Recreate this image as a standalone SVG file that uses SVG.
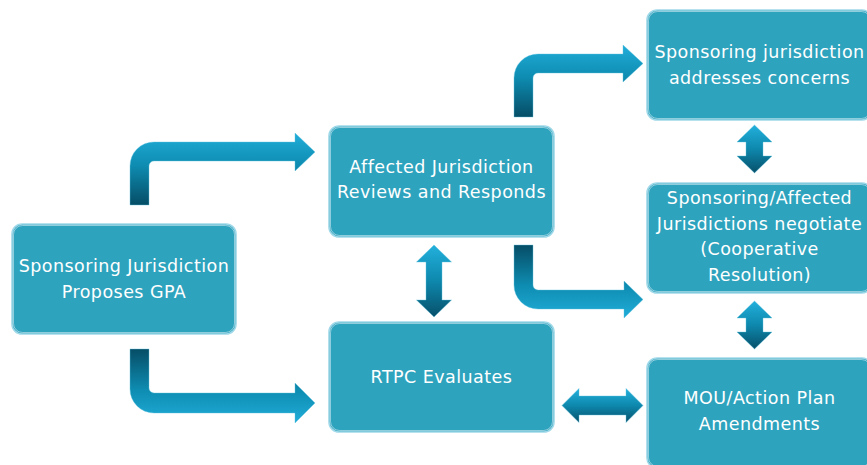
<svg xmlns="http://www.w3.org/2000/svg" width="867" height="465" viewBox="0 0 867 465">
<style>
.box{fill:#2ea3be;stroke:#9fd8e8;stroke-width:1.6}
.inner{fill:none;stroke:#ffffff;stroke-opacity:0.6;stroke-width:0.8}
.lbl{font-family:"DejaVu Sans","Liberation Sans",sans-serif;font-size:17.5px;letter-spacing:0.45px;fill:#ffffff;text-anchor:middle}
.arr{stroke:#5fc3df;stroke-opacity:0.5;stroke-width:0.8}
</style>
<defs>
<linearGradient id="gUp" x1="0" y1="0" x2="0" y2="1">
<stop offset="0" stop-color="#20add9"/>
<stop offset="0.45" stop-color="#0e8cb1"/>
<stop offset="1" stop-color="#064d66"/>
</linearGradient>
<linearGradient id="gDown" x1="0" y1="1" x2="0" y2="0">
<stop offset="0" stop-color="#20add9"/>
<stop offset="0.45" stop-color="#0e8cb1"/>
<stop offset="1" stop-color="#064d66"/>
</linearGradient>
<linearGradient id="gDbl" x1="0" y1="0" x2="0" y2="1">
<stop offset="0" stop-color="#22b0dc"/>
<stop offset="0.5" stop-color="#0e88ad"/>
<stop offset="1" stop-color="#07506a"/>
</linearGradient>
</defs>
<rect width="867" height="465" fill="#ffffff"/>
<g id="connectors">
<path class="arr" fill="url(#gUp)" d="M130,205 L130,166 A24,24 0 0 1 154,142 L295,142 L295,133 L315,152 L295,171 L295,161 L154,161 A5,5 0 0 0 149,166 L149,205 Z"/>
<path class="arr" fill="url(#gDown)" d="M130,349 L149,349 L149,388 A5,5 0 0 0 154,393 L295,393 L295,383 L315,403 L295,423 L295,413 L154,413 A24,24 0 0 1 130,389 Z"/>
<path class="arr" fill="url(#gUp)" d="M514,117 L514,78 A24,24 0 0 1 538,54 L623,54 L623,45 L643,63.5 L623,82 L623,73 L538,73 A5,5 0 0 0 533,78 L533,117 Z"/>
<path class="arr" fill="url(#gDown)" d="M514,245 L533,245 L533,285 A5,5 0 0 0 538,290 L624,290 L624,281 L643,299.5 L624,318 L624,309 L538,309 A24,24 0 0 1 514,285 Z"/>
<path class="arr" fill="url(#gDbl)" d="M434,245 L451.5,262 L442,262 L442,300 L451.5,300 L434,317 L416.5,300 L426,300 L426,262 L416.5,262 Z"/>
<path class="arr" fill="url(#gDbl)" d="M754.5,125 L772,142 L763,142 L763,156 L772,156 L754.5,173 L737,156 L746,156 L746,142 L737,142 Z"/>
<path class="arr" fill="url(#gDbl)" d="M754.5,301 L772,318 L763,318 L763,332 L772,332 L754.5,349 L737,332 L746,332 L746,318 L737,318 Z"/>
<path class="arr" fill="url(#gDbl)" d="M562,405.5 L579,388.5 L579,396 L626,396 L626,388.5 L643,405.5 L626,422.5 L626,415 L579,415 L579,422.5 Z"/>
</g>
<g id="n1">
<rect class="box" x="12" y="224" width="224" height="110" rx="10"/>
<rect class="inner" x="13.5" y="225.5" width="221" height="107" rx="9"/>
<text class="lbl" x="124" y="272">Sponsoring Jurisdiction</text>
<text class="lbl" x="124" y="298">Proposes GPA</text>
</g>
<g id="n2">
<rect class="box" x="329" y="126" width="225" height="111" rx="10"/>
<rect class="inner" x="330.5" y="127.5" width="222" height="108" rx="9"/>
<text class="lbl" x="441.5" y="173">Affected Jurisdiction</text>
<text class="lbl" x="441.5" y="198">Reviews and Responds</text>
</g>
<g id="n3">
<rect class="box" x="329" y="322" width="225" height="110" rx="10"/>
<rect class="inner" x="330.5" y="323.5" width="222" height="107" rx="9"/>
<text class="lbl" x="441.5" y="383">RTPC Evaluates</text>
</g>
<g id="n4">
<rect class="box" x="647" y="10" width="225" height="110" rx="10"/>
<rect class="inner" x="648.5" y="11.5" width="222" height="107" rx="9"/>
<text class="lbl" x="759.5" y="58">Sponsoring jurisdiction</text>
<text class="lbl" x="759.5" y="84">addresses concerns</text>
</g>
<g id="n5">
<rect class="box" x="647" y="183" width="225" height="110" rx="10"/>
<rect class="inner" x="648.5" y="184.5" width="222" height="107" rx="9"/>
<text class="lbl" x="759.5" y="204">Sponsoring/Affected</text>
<text class="lbl" x="759.5" y="230">Jurisdictions negotiate</text>
<text class="lbl" x="759.5" y="255">(Cooperative</text>
<text class="lbl" x="759.5" y="281">Resolution)</text>
</g>
<g id="n6">
<rect class="box" x="647" y="358" width="225" height="110" rx="10"/>
<rect class="inner" x="648.5" y="359.5" width="222" height="107" rx="9"/>
<text class="lbl" x="759.5" y="404">MOU/Action Plan</text>
<text class="lbl" x="759.5" y="430">Amendments</text>
</g>
</svg>
